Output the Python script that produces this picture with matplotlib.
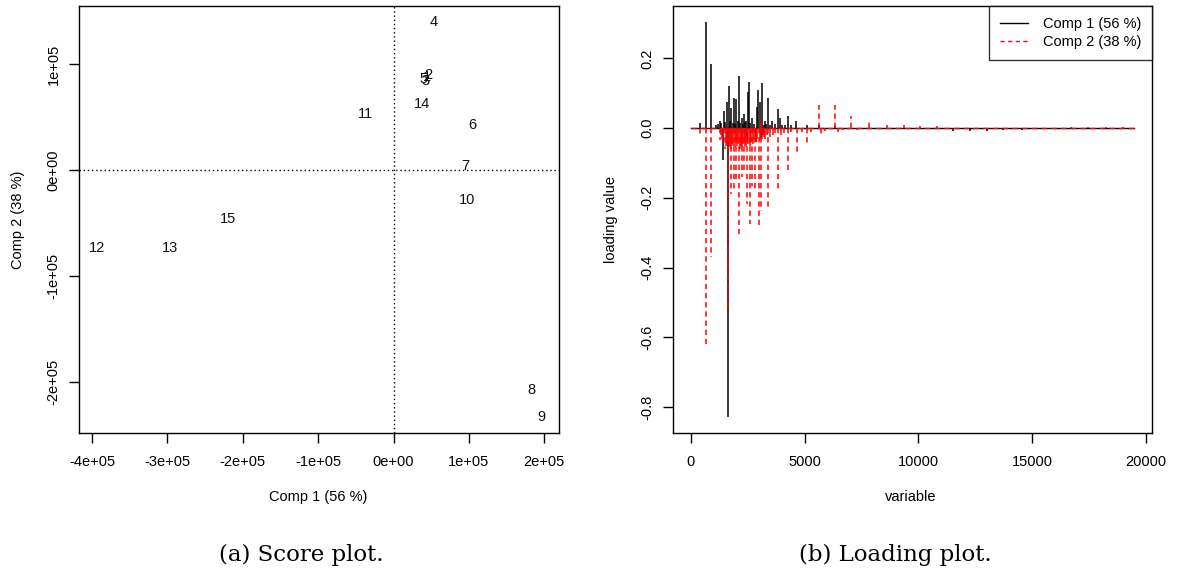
import matplotlib
matplotlib.use("Agg")
import matplotlib.pyplot as plt
from matplotlib.lines import Line2D

plt.rcParams['font.family'] = ['Liberation Sans', 'DejaVu Sans']

# ---------------- Score plot data ----------------
sample_labels = ["1", "2", "3", "4", "5", "6", "7", "8", "9", "10", "11", "12", "13", "14", "15"]
comp1_scores = [0.441e5, 0.462e5, 0.422e5, 0.526e5, 0.396e5, 1.048e5, 0.953e5, 1.831e5, 1.959e5,
                0.977e5, -0.375e5, -3.932e5, -2.969e5, 0.375e5, -2.20e5]
comp2_scores = [0.876e5, 0.898e5, 0.844e5, 1.402e5, 0.860e5, 0.425e5, 0.041e5, -2.077e5, -2.337e5,
                -0.284e5, 0.529e5, -0.731e5, -0.731e5, 0.624e5, -0.457e5]
score_xticks = [-4e5, -3e5, -2e5, -1e5, 0, 1e5, 2e5]
score_xticklabels = ["-4e+05", "-3e+05", "-2e+05", "-1e+05", "0e+00", "1e+05", "2e+05"]
score_yticks = [-2e5, -1e5, 0, 1e5]
score_yticklabels = ["-2e+05", "-1e+05", "0e+00", "1e+05"]

# ---------------- Loading plot data ----------------
n_variables = 19500
comp1_pos = [404, 654, 873, 1268, 1399, 1456, 1605, 1632, 1675, 1781,
             1895, 2000, 2114, 2232, 2333, 2420, 2509, 2553, 2700, 2890,
             2965, 3020, 3140, 3250, 3404, 3560, 3825, 3900, 4263, 4640,
             5114, 5623, 6355, 11544, 12276, 13009, 13737, 14544, 15300, 16100]
comp1_val = [0.014, 0.305, 0.184, 0.020, -0.090, 0.048, 0.076, -0.830, 0.122, 0.059,
             0.086, 0.085, 0.150, 0.030, 0.040, 0.020, 0.103, 0.131, 0.030, 0.062,
             0.110, 0.074, 0.129, 0.020, 0.086, 0.020, 0.055, 0.030, 0.036, 0.020,
             0.010, 0.008, 0.006, -0.008, -0.007, -0.007, -0.006, -0.005, -0.003, -0.003]
comp1_minor_pos = [1100, 1180, 1330, 1520, 1700, 1840, 1950, 2060, 2180, 2280,
                   2380, 2620, 2780, 3200, 3300, 3480, 3700, 4000, 4150, 4400,
                   2450, 2850, 3090, 3180]
comp1_minor_val = [0.010, 0.012, 0.015, 0.018, 0.020, 0.015, 0.012, 0.020, 0.015, 0.012,
                   0.018, 0.015, 0.012, 0.010, 0.012, 0.010, 0.012, 0.010, 0.008, 0.008,
                   -0.030, -0.040, -0.025, -0.020]

comp2_pos = [404, 654, 873, 1268, 1480, 1632, 1781, 1895, 2000, 2114,
             2232, 2333, 2482, 2583, 2700, 2820, 2991, 3066, 3096, 3404,
             3825, 4263, 4675, 5114, 5623, 5700, 6355, 6450, 7057, 7816,
             8623, 9351, 10083, 10814, 16737, 17465, 18272, 19000]
comp2_val = [-0.024, -0.620, -0.371, -0.033, -0.060, -0.520, -0.190, -0.176, -0.152, -0.305,
             -0.140, -0.124, -0.219, -0.276, -0.167, -0.180, -0.281, 0.030, -0.238, -0.225,
             -0.176, -0.129, -0.076, -0.048, 0.065, -0.020, 0.065, -0.012, 0.036, 0.027,
             0.010, 0.008, 0.006, 0.005, 0.004, 0.004, 0.004, 0.004]
comp2_minor_pos = [1320, 1360, 1420, 1550, 1580, 1660, 1720, 1750, 1820, 1860,
                   1930, 1970, 2040, 2080, 2150, 2190, 2260, 2300, 2360, 2400,
                   2440, 2530, 2620, 2660, 2740, 2780, 2860, 2920, 3040, 3140,
                   3200, 3280, 3340, 3500, 3600, 3700, 3950, 4100, 4400, 4900,
                   5300, 5900, 6700, 7300]
comp2_minor_val = [-0.020, -0.030, -0.040, -0.050, -0.045, -0.055, -0.050, -0.060, -0.045, -0.050,
                   -0.055, -0.040, -0.050, -0.045, -0.060, -0.050, -0.055, -0.045, -0.050, -0.040,
                   -0.055, -0.045, -0.050, -0.040, -0.045, -0.035, -0.040, -0.030, -0.035, -0.030,
                   -0.025, -0.030, -0.020, -0.025, -0.020, -0.015, -0.020, -0.015, -0.012, -0.010,
                   -0.010, -0.008, -0.006, -0.005]
load_xticks = [0, 5000, 10000, 15000, 20000]
load_yticks = [-0.8, -0.6, -0.4, -0.2, 0.0, 0.2]
legend_labels = ["Comp 1 (56 %)", "Comp 2 (38 %)"]
axis_labels = {"score_x": "Comp 1 (56 %)", "score_y": "Comp 2 (38 %)",
               "load_x": "variable", "load_y": "loading value"}
captions = ["(a) Score plot.", "(b) Loading plot."]

FS = 10.5
W, H = 1178, 573
fig = plt.figure(figsize=(W / 100, H / 100), dpi=100)

def frac(l, r, t, b):
    return [l / W, 1 - b / H, (r - l) / W, (b - t) / H]

ax1 = fig.add_axes(frac(79.3, 559, 6, 433.3))
ax2 = fig.add_axes(frac(673.2, 1152, 6, 433.3))

for ax in (ax1, ax2):
    for s in ax.spines.values():
        s.set_linewidth(1.0)
        s.set_color('black')
    ax.tick_params(direction='out', length=7, width=1.0, labelsize=FS, colors='black')
    ax.tick_params(axis='x', pad=8.5)
    ax.tick_params(axis='y', pad=6.5)

# ---- Score plot ----
def r_range(vals):
    lo, hi = min(vals), max(vals)
    e = 0.04 * (hi - lo)
    return lo - e, hi + e

ax1.set_xlim(*r_range(comp1_scores))
ax1.set_ylim(*r_range(comp2_scores))
ax1.axvline(0, color='black', lw=1.0, ls=(0, (1, 2)))
ax1.axhline(0, color='black', lw=1.0, ls=(0, (1, 2)))
for lab, xv, yv in zip(sample_labels, comp1_scores, comp2_scores):
    ax1.text(xv, yv, lab, ha='center', va='center', fontsize=FS, color='#111111')
ax1.set_xticks(score_xticks)
ax1.set_xticklabels(score_xticklabels)
ax1.set_yticks(score_yticks)
ax1.set_yticklabels(score_yticklabels, rotation=90, va='center')
ax1.set_xlabel(axis_labels["score_x"], fontsize=FS)
ax1.set_ylabel(axis_labels["score_y"], fontsize=FS)
ax1.xaxis.set_label_coords(0.497, -0.148)
ax1.xaxis.label.set_va('center')
ax1.yaxis.set_label_coords(-0.128, 0.5)
ax1.yaxis.label.set_va('center')

# ---- Loading plot ----
all_vals = comp1_val + comp2_val
ax2.set_xlim(*r_range([1, n_variables]))
ax2.set_ylim(*r_range(all_vals))
ax2.plot([1, n_variables], [0, 0], color='black', lw=1.0)
ax2.vlines(comp1_minor_pos, 0, comp1_minor_val, colors='black', lw=1.1)
ax2.vlines(comp1_pos, 0, comp1_val, colors='black', lw=1.1)
ax2.plot([1, n_variables], [0, 0], color='red', lw=1.0, ls=(0, (4, 3)))
ax2.vlines(comp2_minor_pos, 0, comp2_minor_val, colors='red', lw=1.1)
ax2.vlines(comp2_pos, 0, comp2_val, colors='red', lw=1.1, linestyles=[(0, (3.5, 2.5))])
ax2.set_xticks(load_xticks)
ax2.set_xticklabels([str(v) for v in load_xticks])
ax2.set_yticks(load_yticks)
ax2.set_yticklabels([f"{v:.1f}" for v in load_yticks], rotation=90, va='center')
ax2.set_xlabel(axis_labels["load_x"], fontsize=FS)
ax2.set_ylabel(axis_labels["load_y"], fontsize=FS)
ax2.xaxis.set_label_coords(0.496, -0.148)
ax2.xaxis.label.set_va('center')
ax2.yaxis.set_label_coords(-0.129, 0.5)
ax2.yaxis.label.set_va('center')

handles = [Line2D([], [], color='black', lw=1.0),
           Line2D([], [], color='red', lw=1.0, ls=(0, (3, 2.5)))]
leg = ax2.legend(handles, legend_labels, loc='upper right', fontsize=FS, frameon=True,
                 fancybox=False, borderaxespad=0, handlelength=1.9, handletextpad=1.0,
                 borderpad=0.75, labelspacing=0.3)
leg.get_frame().set_edgecolor('black')
leg.get_frame().set_linewidth(1.0)

fig.text(301 / W, 1 - 555 / H, captions[0], ha='center', va='center',
         fontsize=16.5, family='DejaVu Serif')
fig.text(895.7 / W, 1 - 555 / H, captions[1], ha='center', va='center',
         fontsize=16.5, family='DejaVu Serif')

fig.savefig("out.png", dpi=100)
